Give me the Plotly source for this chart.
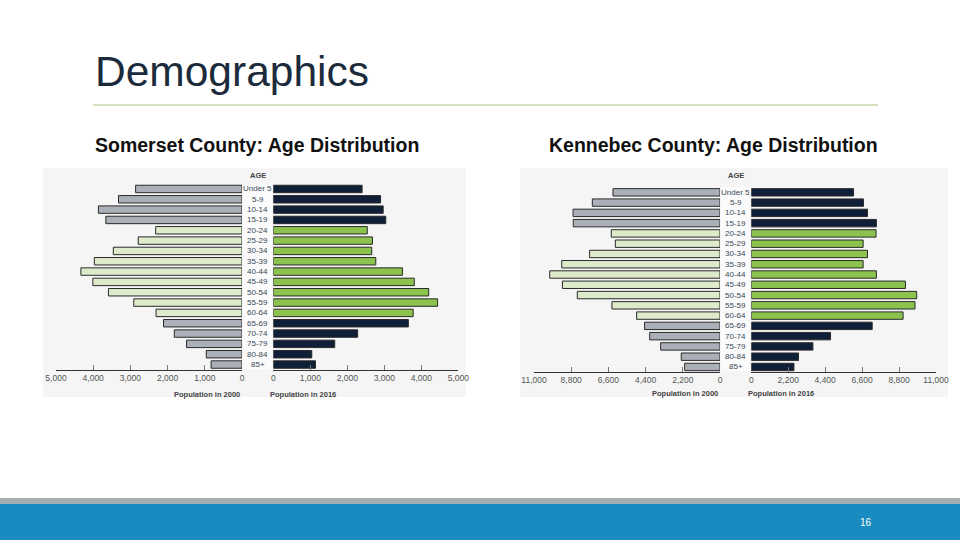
import plotly.graph_objects as go

ages = ["Under 5", "5-9", "10-14", "15-19", "20-24", "25-29", "30-34", "35-39",
        "40-44", "45-49", "50-54", "55-59", "60-64", "65-69", "70-74", "75-79",
        "80-84", "85+"]

som_2000 = [2860, 3320, 3860, 3660, 2320, 2790, 3460, 3970, 4330, 4010, 3590,
            2910, 2310, 2110, 1820, 1490, 960, 830]
som_2016 = [2400, 2900, 2970, 3040, 2540, 2680, 2660, 2770, 3490, 3810, 4200,
            4440, 3780, 3650, 2280, 1660, 1040, 1140]

ken_2000 = [6330, 7550, 8690, 8680, 6430, 6190, 7710, 9360, 10070, 9320, 8440,
            6390, 4930, 4460, 4160, 3510, 2290, 2090]
ken_2016 = [6090, 6680, 6920, 7450, 7430, 6660, 6920, 6660, 7450, 9180, 9850,
            9750, 9040, 7200, 4720, 3670, 2810, 2540]

som_ticks = [0, 1000, 2000, 3000, 4000, 5000]
ken_ticks = [0, 2200, 4400, 6600, 8800, 11000]

W, H = 960, 540
def px(x):
    return x / W
def py(y):
    return 1 - y / H

GRAY, LGREEN, NAVY, GREEN = "#abb0b8", "#deebcb", "#0f1f38", "#8cc34f"
working = set(range(4, 13))
left_colors = [LGREEN if i in working else GRAY for i in range(len(ages))]
right_colors = [GREEN if i in working else NAVY for i in range(len(ages))]
yidx = list(range(len(ages)))

fig = go.Figure()

def add_bars(vals, colors, xa, ya):
    fig.add_trace(go.Bar(
        x=vals, y=yidx, orientation="h", xaxis=xa, yaxis=ya,
        marker=dict(color=colors, line=dict(color="#2a2a2a", width=1)),
        hoverinfo="skip", showlegend=False))

add_bars(som_2000, left_colors, "x", "y")
add_bars(som_2016, right_colors, "x2", "y")
add_bars(ken_2000, left_colors, "x3", "y2")
add_bars(ken_2016, right_colors, "x4", "y2")

narrow = "Liberation Sans Narrow, Arial Narrow, Liberation Sans, Arial"
tickfont = dict(family=narrow, size=8.5, color="#555555")

def xaxis(domain, rng, ticks, anchor):
    return dict(domain=domain, range=rng, anchor=anchor, tickvals=ticks,
                tickformat=",d", showgrid=False, zeroline=False,
                showline=True, linecolor="#333333", linewidth=1,
                ticks="inside", ticklen=5, tickcolor="#777777",
                tickfont=tickfont, fixedrange=True, automargin=False)

fig.update_layout(
    template="none",
    width=W, height=H, margin=dict(l=0, r=0, t=0, b=0, pad=0, autoexpand=False),
    paper_bgcolor="white", plot_bgcolor="rgba(0,0,0,0)",
    bargap=0.28,
    xaxis=xaxis([px(56), px(242)], [5000, 0], som_ticks, "y"),
    xaxis2=xaxis([px(273.3), px(458.3)], [0, 5000], som_ticks, "y"),
    xaxis3=xaxis([px(534), px(720)], [11000, 0], ken_ticks, "y2"),
    xaxis4=xaxis([px(751.3), px(936)], [0, 11000], ken_ticks, "y2"),
    yaxis=dict(domain=[py(369.7), py(183.8)], range=[17.5, -0.5], visible=False,
               fixedrange=True, automargin=False),
    yaxis2=dict(domain=[py(372.1), py(187.2)], range=[17.5, -0.5], visible=False,
                fixedrange=True, automargin=False),
)

shapes = [
    # chart image backgrounds
    dict(type="rect", xref="paper", yref="paper", x0=px(43), x1=px(466),
         y0=py(397), y1=py(168), fillcolor="#f4f5f4", line=dict(width=0), layer="below"),
    dict(type="rect", xref="paper", yref="paper", x0=px(520), x1=px(948),
         y0=py(397), y1=py(168), fillcolor="#f4f5f4", line=dict(width=0), layer="below"),
    # label columns
    dict(type="rect", xref="paper", yref="paper", x0=px(243), x1=px(272),
         y0=py(369), y1=py(184), fillcolor="#fbfbfb", line=dict(width=0), layer="below"),
    dict(type="rect", xref="paper", yref="paper", x0=px(721), x1=px(750),
         y0=py(371), y1=py(187), fillcolor="#fbfbfb", line=dict(width=0), layer="below"),
    # title rule
    dict(type="line", xref="paper", yref="paper", x0=px(93), x1=px(878),
         y0=py(105), y1=py(105), line=dict(color="#a9c47c", width=1)),
    # footer
    dict(type="rect", xref="paper", yref="paper", x0=0, x1=1, y0=py(504), y1=py(498),
         fillcolor="#a3acb0", line=dict(width=0)),
    dict(type="rect", xref="paper", yref="paper", x0=0, x1=1, y0=0, y1=py(504),
         fillcolor="#1a8bc0", line=dict(width=0)),
]
fig.update_layout(shapes=shapes)

ann = []
def text(x, y, s, size, color, bold=False, family="Liberation Sans, Arial",
         xanchor="center", yref="paper"):
    ann.append(dict(x=px(x), y=(py(y) if yref == "paper" else y), xref="paper", yref=yref,
                    text=("<b>%s</b>" % s if bold else s), showarrow=False,
                    xanchor=xanchor, yanchor="middle",
                    font=dict(size=size, color=color, family=family)))

text(93, 72, "Demographics", 42.5, "#1b2b3c", xanchor="left")
text(93, 145, "Somerset County: Age Distribution", 19.5, "#111111", bold=True, xanchor="left")
text(547, 145, "Kennebec County: Age Distribution", 19.5, "#111111", bold=True, xanchor="left")
text(866, 522, "16", 10, "#ffffff")

for cx, ageY, yr in [(257.5, 175, "y"), (735.5, 175, "y2")]:
    text(cx, ageY, "AGE", 7.5, "#444444", bold=True, family=narrow)
    for i, a in enumerate(ages):
        text(cx, i, a, 8, "#3a4757", family=narrow, yref=yr)

text(206.5, 394, "Population in 2000", 7.5, "#444444", bold=True, family=narrow)
text(303, 394, "Population in 2016", 7.5, "#444444", bold=True, family=narrow)
text(684.5, 393, "Population in 2000", 7.5, "#444444", bold=True, family=narrow)
text(781, 393, "Population in 2016", 7.5, "#444444", bold=True, family=narrow)

fig.update_layout(annotations=ann)
fig.write_html("out.html")
